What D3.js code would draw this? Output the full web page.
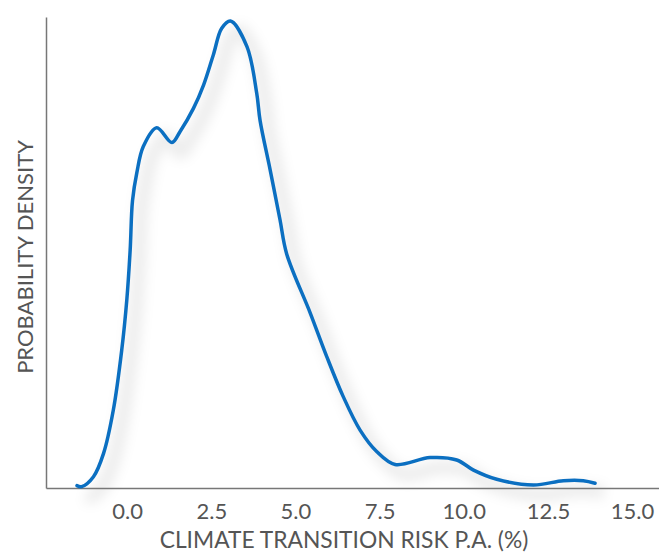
<!DOCTYPE html>
<html>
<head>
<meta charset="utf-8">
<script src="https://cdn.jsdelivr.net/npm/d3@7"></script>
<style>
  body { margin: 0; background: #fff; }
  text { font-family: Lato, "Open Sans", sans-serif; fill: #555; }
</style>
</head>
<body>
<svg></svg>
<script>
// density curve
var riskX = [-1.49, -1.35, -1.0, -0.7, -0.41, -0.16, -0.01, 0.09, 0.16, 0.29, 0.48, 0.88,
             1.33, 1.57, 1.97, 2.27, 2.56, 2.81, 3.07, 3.56, 3.85, 3.95, 4.25, 4.54, 4.74, 5.44, 5.93,
             6.42, 6.92, 7.42, 7.96, 9.0, 9.79, 10.29, 10.98, 12.07, 12.96, 13.55, 13.9];
var density = [0.001, 0.0006, 0.0048, 0.0147, 0.0331, 0.0586, 0.0798, 0.101, 0.122, 0.134, 0.145, 0.153,
               0.1467, 0.1513, 0.1612, 0.1711, 0.1839, 0.1952, 0.1983, 0.1874, 0.1676, 0.156, 0.135, 0.114, 0.0994, 0.0743, 0.0558,
               0.0388, 0.0246, 0.0154, 0.010, 0.0129, 0.0119, 0.0076, 0.0037, 0.0013, 0.0031, 0.0031, 0.002];
var xTicks = [0, 2.5, 5, 7.5, 10, 12.5, 15];

var margin = { top: 17, right: 0, bottom: 64, left: 46 },
    width = 659 - margin.left - margin.right,
    height = 552 - margin.top - margin.bottom;

var svg = d3.select("svg")
    .attr("width", 659)
    .attr("height", 552);

var defs = svg.append("defs");
defs.append("filter")
    .attr("id", "blur")
    .attr("x", "-20%").attr("y", "-20%")
    .attr("width", "140%").attr("height", "140%")
  .append("feGaussianBlur")
    .attr("stdDeviation", 6);

var xScale = d3.scaleLinear()
    .domain([-2.41, 15.8])
    .range([0, width]);

var yScale = d3.scaleLinear()
    .domain([0, 0.2])
    .range([height, 0]);

var g = svg.append("g")
    .attr("transform", "translate(" + margin.left + "," + margin.top + ")");

var pts = riskX.map(function(x, i) { return [x, density[i]]; });

var line = d3.line()
    .x(function(d) { return xScale(d[0]); })
    .y(function(d) { return yScale(d[1]); })
    .curve(d3.curveCatmullRom.alpha(0.5));

// soft shadow under the curve
g.append("path")
    .datum(pts)
    .attr("d", line)
    .attr("transform", "translate(9,10)")
    .attr("fill", "none")
    .attr("stroke", "#000")
    .attr("stroke-opacity", 0.07)
    .attr("stroke-width", 14)
    .attr("filter", "url(#blur)");

// axes: plain lines, no ticks
var xAxis = d3.axisBottom(xScale)
    .tickValues(xTicks)
    .tickFormat(d3.format(".1f"))
    .tickSize(0)
    .tickPadding(15);

var gx = g.append("g")
    .attr("transform", "translate(0," + height + ")")
    .call(xAxis);
gx.select(".domain").attr("stroke", "#777").attr("stroke-width", 1.5);
gx.selectAll(".tick text")
    .attr("font-size", 22)
    .attr("font-family", "Lato")
    .attr("fill", "#555");

var yAxis = d3.axisLeft(yScale).tickValues([]).tickSize(0);
var gy = g.append("g").call(yAxis);
gy.select(".domain").attr("stroke", "#777").attr("stroke-width", 1.5);

g.append("path")
    .datum(pts)
    .attr("d", line)
    .attr("fill", "none")
    .attr("stroke", "#0b6fc1")
    .attr("stroke-width", 3.5)
    .attr("stroke-linejoin", "round")
    .attr("stroke-linecap", "round");

svg.append("text")
    .attr("x", 344)
    .attr("y", 548)
    .attr("text-anchor", "middle")
    .attr("font-size", 22.8)
    .text("CLIMATE TRANSITION RISK P.A. (%)");

svg.append("text")
    .attr("transform", "translate(33,257) rotate(-90)")
    .attr("text-anchor", "middle")
    .attr("font-size", 22)
    .text("PROBABILITY DENSITY");
</script>
</body>
</html>
